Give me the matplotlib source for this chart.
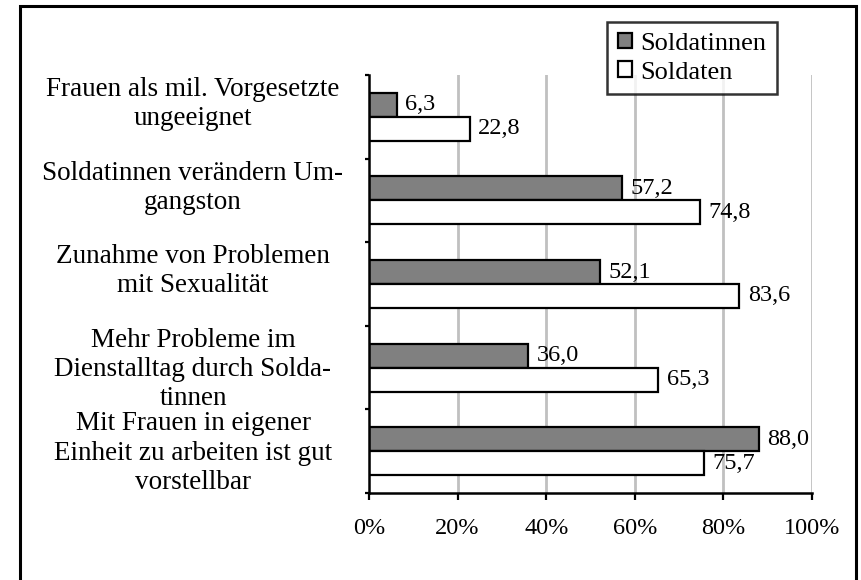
import matplotlib
matplotlib.use("Agg")
import matplotlib.pyplot as plt
import matplotlib.transforms as mtransforms
from matplotlib.patches import Rectangle
import numpy as np

categories = [
    "Frauen als mil. Vorgesetzte\nungeeignet",
    "Soldatinnen verändern Um-\ngangston",
    "Zunahme von Problemen\nmit Sexualität",
    "Mehr Probleme im\nDienstalltag durch Solda-\ntinnen",
    "Mit Frauen in eigener\nEinheit zu arbeiten ist gut\nvorstellbar",
]
soldatinnen = [6.3, 57.2, 52.1, 36.0, 88.0]
soldaten = [22.8, 74.8, 83.6, 65.3, 75.7]
series_names = ["Soldatinnen", "Soldaten"]
xticks = [0, 20, 40, 60, 80, 100]
xticklabels = ["0%", "20%", "40%", "60%", "80%", "100%"]

plt.rcParams['font.family'] = ['Liberation Serif', 'DejaVu Serif']

W, H = 861, 580
fig = plt.figure(figsize=(W / 100, H / 100), dpi=100)
ax = fig.add_axes([369 / W, 1 - 493 / H, (812 - 369) / W, (493 - 75) / H])

n = len(categories)
y = np.arange(n)
bh = 0.287
b1 = ax.barh(y - bh / 2, soldatinnen, height=bh, color="#808080", edgecolor="black",
             linewidth=1.6, label=series_names[0], zorder=3)
b2 = ax.barh(y + bh / 2, soldaten, height=bh, color="white", edgecolor="black",
             linewidth=1.6, label=series_names[1], zorder=3)

for bars, vals in ((b1, soldatinnen), (b2, soldaten)):
    for rect, v in zip(bars, vals):
        ax.annotate(f"{v:.1f}".replace(".", ","),
                    xy=(v, rect.get_y() + rect.get_height() / 2),
                    xytext=(6, 0), textcoords="offset points",
                    va="center", ha="left", fontsize=17.5, zorder=4)

ax.set_xlim(0, 100)
ax.set_ylim(n - 0.5, -0.5)
ax.set_xticks(xticks)
ax.set_xticklabels(xticklabels, fontsize=17.5)
ax.tick_params(axis="x", direction="out", length=5, width=1.6, pad=13)
ax.set_yticks(np.arange(-0.5, n, 1.0))
ax.set_yticklabels([])
ax.tick_params(axis="y", direction="out", length=3, width=1.6)

for xv in xticks[1:]:
    ax.axvline(xv, color="#c0c0c0", linewidth=2, zorder=1)

for s in ("top", "right"):
    ax.spines[s].set_visible(False)
for s in ("left", "bottom"):
    ax.spines[s].set_linewidth(1.8)
    ax.spines[s].set_zorder(5)

trans = mtransforms.blended_transform_factory(fig.transFigure, ax.transData)
for i, lab in enumerate(categories):
    ax.annotate(lab, xy=(193 / W, i - 0.5), xycoords=trans,
                xytext=(0, -1.5), textcoords="offset points",
                ha="center", va="top", multialignment="center",
                fontsize=19.5, linespacing=1.22, annotation_clip=False)

leg = fig.legend(handles=[b1, b2], labels=series_names, loc="upper left",
                 bbox_to_anchor=(607 / W, 1 - 22 / H), fontsize=19,
                 frameon=True, fancybox=False, edgecolor="black",
                 handlelength=0.55, handleheight=0.55, handletextpad=0.3,
                 borderpad=0.4, labelspacing=0.25, borderaxespad=0)
leg.get_frame().set_linewidth(1.8)

fig.patches.append(Rectangle((20 / W, -0.05), (856 - 20) / W, 1 - 6 / H + 0.05,
                             transform=fig.transFigure, fill=False,
                             edgecolor="black", linewidth=2.2))

fig.savefig("out.png", dpi=100)
